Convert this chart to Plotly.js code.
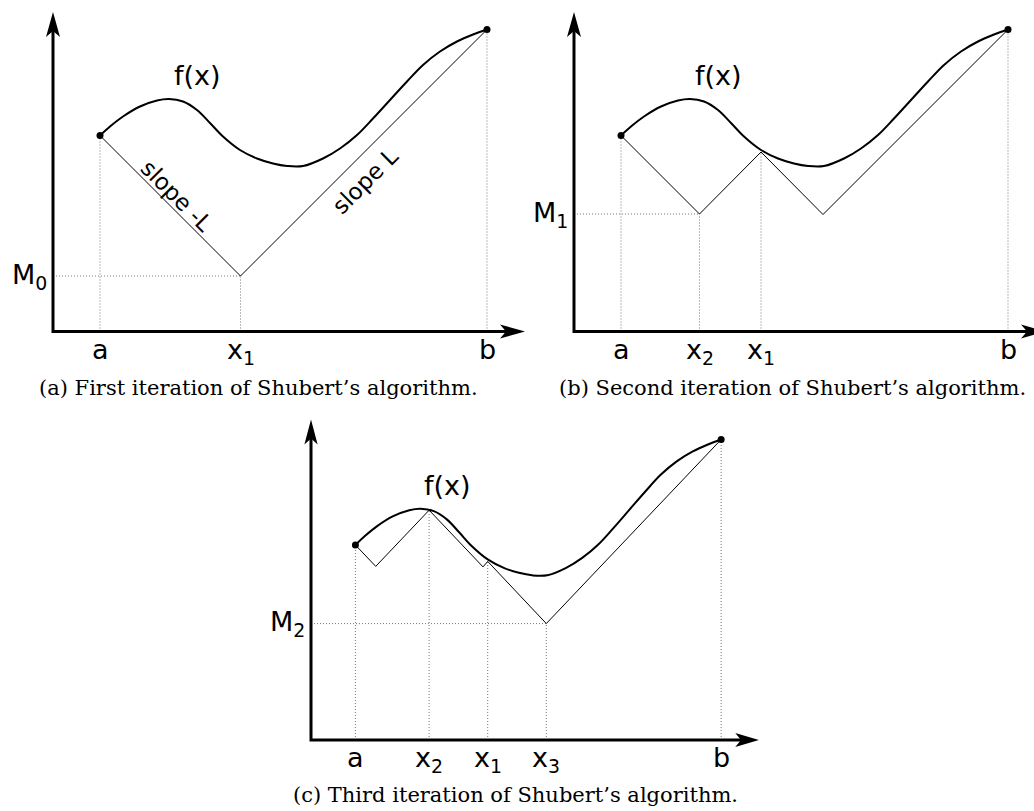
<!DOCTYPE html>
<html>
<head>
<meta charset="utf-8">
<script src="https://cdn.plot.ly/plotly-3.0.1.min.js"></script>
<style>html,body{margin:0;padding:0;background:#fff;}#chart{width:1034px;height:811px;}</style>
</head>
<body>
<div id="chart"></div>
<script>
// ---- data (same f(x) in all three panels) ----
const curveX = [4.7, 5.7, 7.0, 8.7, 10.4, 11.6, 13.0, 14.4, 15.7, 17.0, 18.7, 20.4, 22.0, 23.4, 25.0, 27.0, 28.7, 30.4, 32.0, 33.7, 35.4, 37.0, 38.7, 40.4, 42.0, 43.4];
const curveY = [19.6, 20.5, 21.5, 22.5, 23.1, 23.25, 23.0, 22.15, 20.85, 19.5, 18.15, 17.3, 16.8, 16.55, 16.55, 17.3, 18.3, 19.65, 21.3, 23.15, 25.0, 26.65, 28.0, 29.0, 29.7, 30.2];
const endX = [4.7, 43.4];
const endY = [19.6, 30.2];

// lower bounds (saw-tooth) for each iteration
const boundAX = [4.7, 18.75, 43.4];
const boundAY = [19.6, 5.55, 30.2];
const boundBX = [4.7, 12.55, 18.7, 24.9, 43.4];
const boundBY = [19.6, 11.75, 17.95, 11.7, 30.2];
const boundCX = [4.7, 6.85, 12.5, 18.2, 18.7, 24.9, 43.4];
const boundCY = [19.6, 17.45, 23.1, 17.4, 17.95, 11.7, 30.2];

// dotted guide lines: vertical drops and the M level
const guideAX = [4.7, 18.75, 43.4];
const guideAY = [19.6, 5.55, 30.2];
const guideBX = [4.7, 12.55, 18.7, 43.4];
const guideBY = [19.6, 11.75, 17.95, 30.2];
const guideCX = [4.7, 12.5, 18.7, 24.9, 43.4];
const guideCY = [19.6, 23.1, 17.95, 11.7, 30.2];
const levelA = {x: 18.75, y: 5.55, label: 'M<sub>0</sub>'};
const levelB = {x: 12.55, y: 11.75, label: 'M<sub>1</sub>'};
const levelC = {x: 24.9, y: 11.7, label: 'M<sub>2</sub>'};

// x tick labels
const ticksAX = [4.7, 18.75, 43.4];
const ticksAT = ['a', 'x<sub>1</sub>', 'b'];
const ticksBX = [4.7, 12.55, 18.7, 43.4];
const ticksBT = ['a', 'x<sub>2</sub>', 'x<sub>1</sub>', 'b'];
const ticksCX = [4.7, 12.5, 18.7, 24.9, 43.4];
const ticksCT = ['a', 'x<sub>2</sub>', 'x<sub>1</sub>', 'x<sub>3</sub>', 'b'];

const captions = [
  "(a) First iteration of Shubert’s algorithm.",
  "(b) Second iteration of Shubert’s algorithm.",
  "(c) Third iteration of Shubert’s algorithm."
];

// ---- layout geometry ----
const W = 1034, H = 811;
const SANS = 'DejaVu Sans, Verdana, sans-serif';
const SERIF = 'DejaVu Serif, Liberation Serif, serif';
const panels = [
  {id: '', ox: 53, oy: 331.5, sx: 10, sy: 10, xmax: 47.7, xtip: 47.2, ymax: 32.4, ytip: 31.95,
   bx: boundAX, by: boundAY, gx: guideAX, gy: guideAY, lev: levelA, tx: ticksAX, tt: ticksAT},
  {id: '2', ox: 574, oy: 331.5, sx: 10, sy: 10, xmax: 46.0, xtip: 47.2, ymax: 32.4, ytip: 31.95,
   bx: boundBX, by: boundBY, gx: guideBX, gy: guideBY, lev: levelB, tx: ticksBX, tt: ticksBT},
  {id: '3', ox: 311, oy: 740, sx: 9.45, sy: 9.95, xmax: 47.8, xtip: 47.4, ymax: 32.6, ytip: 32.2,
   bx: boundCX, by: boundCY, gx: guideCX, gy: guideCY, lev: levelC, tx: ticksCX, tt: ticksCT}
];
const PAD = 1.5;       // room below / left of the axes inside each subplot
const HEAD_L = 2.5, HEAD_W = 0.7, HEAD_N = 1.9;  // arrowhead size in axis units

const traces = [];
const layout = {
  width: W, height: H,
  margin: {l: 0, r: 0, t: 0, b: 0},
  paper_bgcolor: '#fff', plot_bgcolor: 'rgba(0,0,0,0)',
  showlegend: false,
  annotations: [], shapes: []
};

panels.forEach(p => {
  const xa = 'x' + p.id, ya = 'y' + p.id;
  const xk = 'xaxis' + p.id, yk = 'yaxis' + p.id;
  layout[xk] = {
    domain: [(p.ox - p.sx * PAD) / W, Math.min(1, (p.ox + p.sx * p.xmax) / W)],
    range: [-PAD, p.xmax], anchor: ya, visible: false, fixedrange: true
  };
  layout[yk] = {
    domain: [1 - (p.oy + p.sy * PAD) / H, 1 - (p.oy - p.sy * p.ymax) / H],
    range: [-PAD, p.ymax], anchor: xa, visible: false, fixedrange: true
  };
  // x tick labels placed on the axis scale
  p.tx.forEach((v, i) => {
    layout.annotations.push({xref: xa, yref: ya, x: v, y: 0, text: p.tt[i], showarrow: false,
      xanchor: 'center', yanchor: 'top', yshift: -1, borderpad: 0,
      font: {family: SANS, size: 27, color: '#000'}});
  });
  // M level label on the y axis
  layout.annotations.push({xref: xa, yref: ya, x: 0, y: p.lev.y, text: p.lev.label, showarrow: false,
    xanchor: 'right', yanchor: 'middle', xshift: -5, borderpad: 0,
    font: {family: SANS, size: 27, color: '#000'}});
  // dotted guides
  const gx = [], gy = [];
  p.gx.forEach((v, i) => { gx.push(v, v, null); gy.push(0, p.gy[i], null); });
  gx.push(0, p.lev.x); gy.push(p.lev.y, p.lev.y);
  traces.push({x: gx, y: gy, xaxis: xa, yaxis: ya, mode: 'lines', hoverinfo: 'skip',
    line: {color: '#777', width: 1, dash: '1px,2px'}});
  // lower bound
  traces.push({x: p.bx, y: p.by, xaxis: xa, yaxis: ya, mode: 'lines', hoverinfo: 'skip',
    line: {color: '#000', width: 1}});
  // f(x)
  traces.push({x: curveX, y: curveY, xaxis: xa, yaxis: ya, mode: 'lines', hoverinfo: 'skip',
    line: {color: '#000', width: 2, shape: 'spline', smoothing: 1}});
  traces.push({x: endX, y: endY, xaxis: xa, yaxis: ya, mode: 'markers', cliponaxis: false,
    hoverinfo: 'skip', marker: {color: '#000', size: 7}});
  // axes (thick lines) with arrowheads
  traces.push({x: [0, 0, p.xtip - 1.5], y: [p.ytip - 1.5, 0, 0], xaxis: xa, yaxis: ya,
    mode: 'lines', hoverinfo: 'skip', line: {color: '#000', width: 3}});
  const T = p.xtip, Y = p.ytip;
  layout.shapes.push({type: 'path', xref: xa, yref: ya, fillcolor: '#000', line: {width: 0},
    path: `M${T},0 L${T - HEAD_L},${HEAD_W} L${T - HEAD_N},0 L${T - HEAD_L},${-HEAD_W} Z`});
  layout.shapes.push({type: 'path', xref: xa, yref: ya, fillcolor: '#000', line: {width: 0},
    path: `M0,${Y} L${-HEAD_W},${Y - HEAD_L} L0,${Y - HEAD_N} L${HEAD_W},${Y - HEAD_L} Z`});
  // f(x) label
  layout.annotations.push({xref: xa, yref: ya, x: 14.4, y: 25.6, text: 'f(x)', showarrow: false,
    font: {family: SANS, size: 27, color: '#000'}});
});

// slope labels (first panel)
layout.annotations.push({xref: 'x', yref: 'y', x: 12.4, y: 13.6, text: 'slope -L', textangle: 45,
  showarrow: false, font: {family: SANS, size: 23, color: '#000'}});
layout.annotations.push({xref: 'x', yref: 'y', x: 31.2, y: 15.1, text: 'slope L', textangle: -45,
  showarrow: false, font: {family: SANS, size: 23, color: '#000'}});

// captions
const capPos = [[258, 388], [792, 388], [515, 795]];
captions.forEach((c, i) => {
  layout.annotations.push({xref: 'paper', yref: 'paper', x: capPos[i][0] / W, y: 1 - capPos[i][1] / H,
    text: c, showarrow: false, xanchor: 'center', yanchor: 'middle',
    font: {family: SERIF, size: 21, color: '#000'}});
});

Plotly.newPlot('chart', traces, layout, {staticPlot: true, displayModeBar: false});
</script>
</body>
</html>
